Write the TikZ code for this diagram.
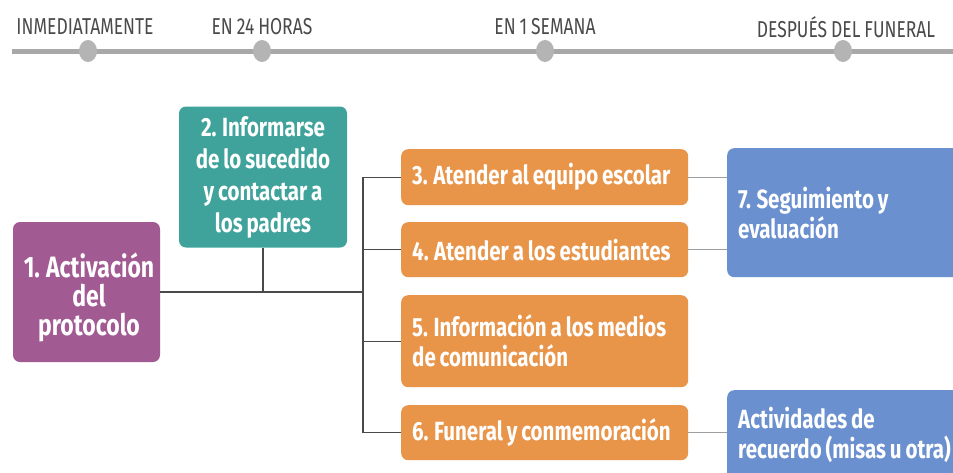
\documentclass[tikz,border=0pt]{standalone}
\usepackage{fontspec}
\usetikzlibrary{shapes.geometric}
\setmainfont[FakeStretch=0.78,WordSpace=0.8]{Fira Sans}
\newfontfamily\tlfont[FakeStretch=0.76,WordSpace=0.85]{Fira Sans}
\definecolor{cpurple}{HTML}{A15A92}
\definecolor{cteal}{HTML}{40A39B}
\definecolor{corange}{HTML}{E8954A}
\definecolor{cblue}{HTML}{6B90CF}
\definecolor{cline}{HTML}{A8A8A8}
\definecolor{cdot}{HTML}{B4B4B4}
\definecolor{ctext}{HTML}{4A4A4A}
\definecolor{cconn}{HTML}{4A4A4A}
\begin{document}
\begin{tikzpicture}[x=1pt,y=-1pt,
  box/.style={rectangle, rounded corners=7pt, draw=none, text=white,
    font=\fontsize{26.3}{30}\selectfont\bfseries, inner sep=0pt},
  obox/.style={box, fill=corange, minimum width=287, anchor=north west,
    text width=265, align=flush left},
  bbox/.style={box, fill=cblue, minimum width=240, anchor=north west,
    text width=218, align=flush left},
  tl/.style={font=\tlfont\fontsize{23}{25}\selectfont, text=ctext, inner sep=0pt},
  dot/.style={ellipse, fill=cdot, minimum width=18, minimum height=22, inner sep=0pt},
  conn/.style={draw=cconn, line width=1.3pt},
  conn2/.style={draw=gray!75, line width=1.3pt}]
\useasboundingbox (0,0) rectangle (953,472);
\clip (0,0) rectangle (953,472);
\fill[white] (0,0) rectangle (953,472);
% timeline
\coordinate (tl0) at (12,51);
\coordinate (tl1) at (953,51);
\draw[cline, line width=5pt] (tl0) -- (tl1);
\node[dot] (t1) at (88,51) {};
\node[dot] (t2) at (262,51) {};
\node[dot] (t3) at (545,51) {};
\node[dot] (t4) at (843,51) {};
\node[tl] (l1) at (85,27) {INMEDIATAMENTE};
\node[tl] (l2) at (262,27) {EN 24 HORAS};
\node[tl] (l3) at (545,27) {EN 1 SEMANA};
\node[tl] (l4) at (846,27) {DESPUÉS DEL FUNERAL};
% boxes
\node[box, fill=cpurple, minimum width=147, minimum height=140, align=center,
  font=\fontsize{29.5}{29}\selectfont\bfseries]
  (b1) at (86.5,292) {};
\node[text=white, font=\fontsize{29.5}{29}\selectfont\bfseries, align=center, inner sep=0pt]
  (b1t) at (89,297) {1. Activación\\del\\protocolo};
\node[box, fill=cteal, minimum width=168, minimum height=141, align=center,
  font=\fontsize{26.3}{32}\selectfont\bfseries]
  (b2) at (263,177) {2. Informarse\\de lo sucedido\\y contactar a\\los padres};
\node[obox, minimum height=56] (b3) at (401,149) {3. Atender al equipo escolar};
\node[obox, minimum height=55] (b4) at (401,222) {4. Atender a los estudiantes};
\node[obox, minimum height=92] (b5) at (401,295) {5. Información a los medios\\de comunicación};
\node[obox, minimum height=55] (b6) at (401,405) {6. Funeral y conmemoración};
\node[bbox, minimum height=129] (b7) at (727,148) {7. Seguimiento y\\evaluación};
\node[bbox, minimum height=90] (b8) at (727,390) {Actividades de\\recuerdo (misas u otra)};
% connectors
\coordinate (jb) at (363,292);
\draw[conn] (b1.east) -- (jb);
\draw[conn] (b2.south) -- (b2.south |- jb);
\draw[conn] (b3.west -| jb) -- (b6.west -| jb);
\draw[conn] (b3.west -| jb) -- (b3.west);
\draw[conn] (b4.west -| jb) -- (b4.west);
\draw[conn] (b5.west -| jb) -- (b5.west);
\draw[conn] (b6.west -| jb) -- (b6.west);
\draw[conn2] (b3.east) -- (b3.east -| b7.west);
\draw[conn2] (b4.east) -- (b4.east -| b7.west);
\draw[conn2] (b6.east) -- (b6.east -| b8.west);
\end{tikzpicture}
\end{document}
